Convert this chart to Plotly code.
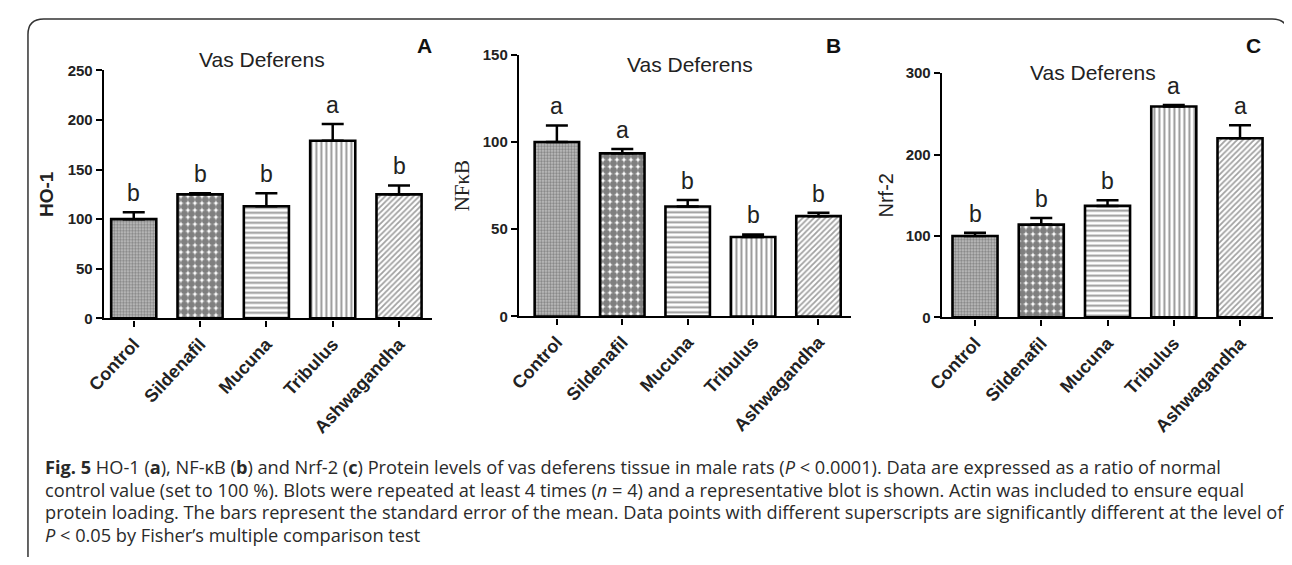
import plotly.graph_objects as go

W, H = 1276, 549   # page adds an 8px body margin on every side -> 1292x565 window
OFF = 8

categories = ["Control", "Sildenafil", "Mucuna", "Tribulus", "Ashwagandha"]

ho1_mean = [100, 125, 113, 179, 125]
ho1_sem = [7, 1, 13, 17, 9]
ho1_letters = ["b", "b", "b", "a", "b"]
ho1_ticks = [0, 50, 100, 150, 200, 250]

nfkb_mean = [100, 93.5, 63, 45.5, 57.5]
nfkb_sem = [9.5, 2.5, 3.8, 1.5, 2]
nfkb_letters = ["a", "a", "b", "b", "b"]
nfkb_ticks = [0, 50, 100, 150]

nrf2_mean = [100, 114, 137, 259, 220]
nrf2_sem = [4, 8, 7, 2, 16]
nrf2_letters = ["b", "b", "b", "a", "a"]
nrf2_ticks = [0, 100, 200, 300]

patterns = [
    dict(shape=".", size=3, solidity=0.5, fgcolor="#444", bgcolor="#c4c4c4"),
    dict(shape=".", size=7, solidity=0.75, fgcolor="#000", bgcolor="#fff"),
    dict(shape="-", size=5, solidity=0.4, fgcolor="#333", bgcolor="#fff"),
    dict(shape="|", size=5, solidity=0.4, fgcolor="#333", bgcolor="#fff"),
    dict(shape="/", size=4, solidity=0.45, fgcolor="#444", bgcolor="#fff"),
]


def px_x(p):
    return (p - OFF) / W


def px_y(p):
    return 1 - (p - OFF) / H


panels = [
    dict(mean=ho1_mean, sem=ho1_sem, letters=ho1_letters, ticks=ho1_ticks,
         xdom=[px_x(87), px_x(420)], ydom=[px_y(319), px_y(63)], xr=[-0.45, 4.5],
         ytitle="HO-1", tfont=dict(family="Liberation Sans", size=19, weight="bold"),
         standoff=9, title_xy=(247, 52), letter="A", letter_xy=(412, 37)),
    dict(mean=nfkb_mean, sem=nfkb_sem, letters=nfkb_letters, ticks=nfkb_ticks,
         xdom=[px_x(508), px_x(845)], ydom=[px_y(317), px_y(47)], xr=[-0.58, 4.5],
         ytitle="NFκB", tfont=dict(family="Liberation Serif", size=21, weight="normal"),
         standoff=7, title_xy=(682, 57), letter="B", letter_xy=(827, 37)),
    dict(mean=nrf2_mean, sem=nrf2_sem, letters=nrf2_letters, ticks=nrf2_ticks,
         xdom=[px_x(937), px_x(1273)], ydom=[px_y(318), px_y(66)], xr=[-0.5, 4.5],
         ytitle="Nrf-2", tfont=dict(family="Liberation Sans", size=20, weight="normal"),
         standoff=7, title_xy=(1090, 65), letter="C", letter_xy=(1253, 37)),
]

fig = go.Figure()
annotations = []
layout = {}

for i, p in enumerate(panels):
    n = "" if i == 0 else str(i + 1)
    xa, ya = "x" + n, "y" + n
    fig.add_trace(go.Bar(
        x=list(range(len(categories))), y=p["mean"],
        xaxis=xa, yaxis=ya, width=0.68,
        marker=dict(color="white", line=dict(color="black", width=2.6),
                    pattern=dict(shape=[q["shape"] for q in patterns],
                                 size=[q["size"] for q in patterns],
                                 solidity=[q["solidity"] for q in patterns],
                                 fgcolor=[q["fgcolor"] for q in patterns],
                                 bgcolor=[q["bgcolor"] for q in patterns],
                                 fillmode="overlay")),
        error_y=dict(type="data", array=p["sem"], arrayminus=[0] * len(categories),
                     symmetric=False, color="black", thickness=2.5, width=11),
        showlegend=False, hoverinfo="skip",
    ))
    layout["xaxis" + n] = dict(
        domain=p["xdom"], anchor=ya, range=p["xr"],
        tickmode="array", tickvals=list(range(len(categories))), ticktext=categories,
        tickangle=-47, ticks="outside", ticklen=6, tickwidth=2.2, tickcolor="black",
        showline=True, linewidth=2.4, linecolor="black", showgrid=False, zeroline=False,
        tickfont=dict(family="Liberation Sans", size=18, weight="bold", color="#222"),
        fixedrange=True,
    )
    ymax = p["ticks"][-1]
    layout["yaxis" + n] = dict(
        domain=p["ydom"], anchor=xa, range=[0, ymax],
        tickmode="array", tickvals=p["ticks"],
        ticks="outside", ticklen=6, tickwidth=2.2, tickcolor="black",
        showline=True, linewidth=2.4, linecolor="black", showgrid=False, zeroline=False,
        tickfont=dict(family="Liberation Sans", size=15, weight="bold", color="#222"),
        title=dict(text=p["ytitle"], font=dict(color="#222", **p["tfont"]),
                   standoff=p["standoff"]),
        fixedrange=True,
    )
    for j, (m, s, l) in enumerate(zip(p["mean"], p["sem"], p["letters"])):
        annotations.append(dict(
            x=j, y=m + s, xref=xa, yref=ya, text=l, showarrow=False,
            yanchor="bottom", yshift=4,
            font=dict(family="Liberation Sans", size=23, color="#222"),
        ))
    annotations.append(dict(
        x=px_x(p["title_xy"][0]), y=px_y(p["title_xy"][1]), xref="paper", yref="paper",
        text="Vas Deferens", showarrow=False, xanchor="center", yanchor="middle",
        font=dict(family="Liberation Sans", size=21, color="#222"),
    ))
    annotations.append(dict(
        x=px_x(p["letter_xy"][0]), y=px_y(p["letter_xy"][1]), xref="paper", yref="paper",
        text="<b>%s</b>" % p["letter"], showarrow=False, xanchor="center", yanchor="middle",
        font=dict(family="Liberation Sans", size=21, color="#111"),
    ))

caption_lines = [
    "<b>Fig. 5</b> HO-1 (<b>a</b>), NF-κB (<b>b</b>) and Nrf-2 (<b>c</b>) Protein levels of vas deferens tissue in male rats (<i>P</i> < 0.0001). Data are expressed as a ratio of normal",
    "control value (set to 100 %). Blots were repeated at least 4 times (<i>n</i> = 4) and a representative blot is shown. Actin was included to ensure equal",
    "protein loading. The bars represent the standard error of the mean. Data points with different superscripts are significantly different at the level of",
    "<i>P</i> < 0.05 by Fisher’s multiple comparison test",
]
caption_y = [472, 496, 519, 543]
for t, yy in zip(caption_lines, caption_y):
    annotations.append(dict(
        x=px_x(25), y=px_y(yy), xref="paper", yref="paper", text=t, showarrow=False,
        xanchor="left", yanchor="middle", align="left",
        font=dict(family="Open Sans", size=18.2, color="#2a2a2a"),
    ))

# rounded frame
x0, y0, x1, y1, r = 10, 10, 1288, 600, 16
path = (f"M {px_x(x0)},{px_y(y1)} L {px_x(x0)},{px_y(y0 + r)} "
        f"Q {px_x(x0)},{px_y(y0)} {px_x(x0 + r)},{px_y(y0)} "
        f"L {px_x(x1 - r)},{px_y(y0)} Q {px_x(x1)},{px_y(y0)} {px_x(x1)},{px_y(y0 + r)} "
        f"L {px_x(x1)},{px_y(y1)}")
shapes = [dict(type="path", path=path, xref="paper", yref="paper",
               line=dict(color="#333", width=1.5))]

fig.update_layout(
    width=W, height=H, margin=dict(l=0, r=0, t=0, b=0),
    paper_bgcolor="white", plot_bgcolor="white",
    annotations=annotations, shapes=shapes, bargap=0.3,
    **layout,
)

fig.write_html("out.html", config={"displayModeBar": False})
